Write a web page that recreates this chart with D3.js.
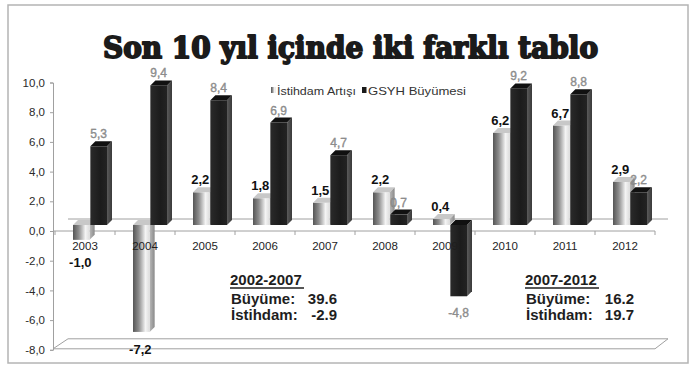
<!DOCTYPE html>
<html><head><meta charset="utf-8">
<script src="https://cdn.jsdelivr.net/npm/d3@7/dist/d3.min.js"></script>
<style>
html,body{margin:0;padding:0;background:#fff;}
svg{display:block;}
</style></head>
<body>
<svg id="chart" width="700" height="374"></svg>
<script>
const years = ["2003","2004","2005","2006","2007","2008","2009","2010","2011","2012"];
const istihdam = [-1.0, -7.2, 2.2, 1.8, 1.5, 2.2, 0.4, 6.2, 6.7, 2.9];
const gsyh = [5.3, 9.4, 8.4, 6.9, 4.7, 0.7, -4.8, 9.2, 8.8, 2.2];
const seriesNames = ["İstihdam Artışı", "GSYH Büyümesi"];
const yTicks = [-8, -6, -4, -2, 0, 2, 4, 6, 8, 10];
const titleText = "Son 10 yıl içinde iki farklı tablo";
const periodA = {title: "2002-2007", rows: [["Büyüme:", "39.6"], ["İstihdam:", "-2.9"]]};
const periodB = {title: "2007-2012", rows: [["Büyüme:", "16.2"], ["İstihdam:", "19.7"]]};

const svg = d3.select("#chart");
const defs = svg.append("defs");
const FONT = "'Liberation Sans', Arial, sans-serif";

// gradients
const gGray = defs.append("linearGradient").attr("id","gGray").attr("x1","0").attr("x2","1").attr("y1","0").attr("y2","0");
[["0%","#555"],["35%","#8e8e8e"],["75%","#f4f4f4"],["100%","#dcdcdc"]].forEach(s=>gGray.append("stop").attr("offset",s[0]).attr("stop-color",s[1]));
const gGraySide = defs.append("linearGradient").attr("id","gGraySide").attr("x1","0").attr("x2","1");
[["0%","#b8b8b8"],["100%","#8a8a8a"]].forEach(s=>gGraySide.append("stop").attr("offset",s[0]).attr("stop-color",s[1]));
const gBlack = defs.append("linearGradient").attr("id","gBlack").attr("x1","0").attr("x2","1");
[["0%","#2a2a2a"],["60%","#1c1c1c"],["100%","#232323"]].forEach(s=>gBlack.append("stop").attr("offset",s[0]).attr("stop-color",s[1]));
const gBlackSide = defs.append("linearGradient").attr("id","gBlackSide").attr("x1","0").attr("x2","1");
[["0%","#5a5a5a"],["100%","#3a3a3a"]].forEach(s=>gBlackSide.append("stop").attr("offset",s[0]).attr("stop-color",s[1]));

// frame
svg.append("rect").attr("x",8).attr("y",5).attr("width",680).attr("height",358)
  .attr("fill","#fff").attr("stroke","#b4b4b4").attr("stroke-width",1.5);

// title
svg.append("text").attr("x",103).attr("y",58).text(titleText)
  .attr("font-family","'DejaVu Serif', serif").attr("font-weight","bold").attr("font-size",29)
  .attr("fill","#1b1b1b").attr("stroke","#1b1b1b").attr("stroke-width",1.9)
  .attr("stroke-linejoin","round")
  .attr("textLength",495).attr("lengthAdjust","spacingAndGlyphs");

// scales
const y = d3.scaleLinear().domain([-8, 10]).range([349.8, 82.5]);
const x0 = d3.scaleBand().domain(years).range([55, 655]);
const x1 = d3.scaleBand().domain(seriesNames).range([0, 34]).paddingInner(0.04);
const barOff = 18;        // shift of bar group inside band (depth)
const depthY = -6;        // bars sit half-way into depth
const dx = 5, dyTop = -5; // 3D face offsets
const wallDx = 15, wallDy = -12;
const fmt = v => d3.format(".1f")(v).replace(".",",").replace("\u2212","-");

// back zero line & floor
const g0 = svg.append("g").attr("stroke","#a0a0a0").attr("fill","none").attr("stroke-width",1);
g0.append("line").attr("x1",53+wallDx).attr("x2",655+wallDx-2).attr("y1",y(0)+wallDy).attr("y2",y(0)+wallDy);
g0.append("path").attr("d",
  `M53,${y(-8)-1} L${53+wallDx},${y(-8)+wallDy+1} L${655+wallDx-2},${y(-8)+wallDy+1} L655,${y(-8)-1} Z`);
g0.append("line").attr("x1",53).attr("x2",655).attr("y1",y(0)).attr("y2",y(0));

// x ticks at band edges
svg.append("g").selectAll("line").data(years.concat(["end"])).join("line")
  .attr("x1",d=> d==="end" ? 655 : x0(d)).attr("x2",d=> d==="end" ? 655 : x0(d))
  .attr("y1",y(0)).attr("y2",y(0)+4).attr("stroke","#a0a0a0");

// y axis
const yAxis = svg.append("g").attr("transform","translate(53,0)")
  .call(d3.axisLeft(y).tickValues(yTicks).tickSize(3).tickPadding(5).tickFormat(fmt));
yAxis.select(".domain").attr("stroke","#a0a0a0");
yAxis.selectAll(".tick line").attr("stroke","#a0a0a0");
yAxis.selectAll("text").attr("font-family",FONT).attr("font-size",11.5).attr("fill","#2a2a2a");

// bars
const data = [];
years.forEach((yr,i)=>{
  data.push({year:yr, s:seriesNames[0], v:istihdam[i], k:0});
  data.push({year:yr, s:seriesNames[1], v:gsyh[i], k:1});
});
const bars = svg.append("g").selectAll("g").data(data).join("g");
bars.each(function(d){
  const g = d3.select(this);
  const xl = x0(d.year) + barOff + x1(d.s);
  const w = x1.bandwidth();
  const top = y(Math.max(d.v,0)) + depthY;
  const bot = y(Math.min(d.v,0)) + depthY;
  d.xl = xl; d.w = w; d.top = top; d.bot = bot;
  g.append("path").attr("d",`M${xl+w},${top} L${xl+w+dx},${top+dyTop} L${xl+w+dx},${bot+dyTop} L${xl+w},${bot} Z`)
    .attr("fill", d.k===0 ? "url(#gGraySide)" : "url(#gBlackSide)");
  g.append("rect").attr("x",xl).attr("y",top).attr("width",w).attr("height",Math.max(bot-top,0.5))
    .attr("fill", d.k===0 ? "url(#gGray)" : "url(#gBlack)");
  g.append("path").attr("d",`M${xl},${top} L${xl+dx},${top+dyTop} L${xl+w+dx},${top+dyTop} L${xl+w},${top} Z`)
    .attr("fill", d.k===0 ? "#c8c8c8" : "#111");
});

// category labels (drawn over bars)
const xAxis = svg.append("g").attr("transform",`translate(0,${y(0)})`)
  .call(d3.axisBottom(x0).tickSize(0).tickPadding(11));
xAxis.select(".domain").remove();
xAxis.selectAll("text").attr("font-family",FONT).attr("font-size",11.5).attr("fill","#1e1e1e");

// value labels
svg.append("g").selectAll("text").data(data).join("text")
  .attr("x", d => d.xl + d.w/2 + (d.k===0 ? -1 : 0))
  .attr("y", d => d.v >= 0 ? d.top - 8 : (d.k===0 ? Math.max(d.bot + 22, 267) : d.bot + 21))
  .attr("text-anchor","middle")
  .attr("font-family",FONT)
  .attr("font-weight", d => d.k===0 ? "bold" : "normal")
  .attr("font-size", d => d.k===0 ? 13 : 12)
  .attr("fill", d => d.k===0 ? "#111" : "#8d8d8d")
  .attr("stroke", d => d.k===0 ? "#fff" : "#666")
  .attr("stroke-width", d => d.k===0 ? 0.6 : 0.3)
  .attr("paint-order","stroke")
  .text(d => fmt(d.v));

// legend
const leg = svg.append("g");
const legItems = [{name:seriesNames[0], x:271, w:79, fill:"url(#gGray)"},{name:seriesNames[1], x:362, w:98, fill:"#1a1a1a"}];
legItems.forEach(it=>{
  leg.append("rect").attr("x",it.x).attr("y",87).attr("width",4.5).attr("height",6).attr("fill",it.fill);
  leg.append("text").attr("x",it.x+6).attr("y",95).text(it.name)
    .attr("font-family",FONT).attr("font-size",11.5).attr("fill","#333")
    .attr("textLength",it.w).attr("lengthAdjust","spacingAndGlyphs");
});

// period annotations
function period(p, x, numRight){
  const g = svg.append("g").attr("font-family",FONT).attr("font-weight","bold").attr("fill","#1e1e1e");
  g.append("text").attr("x",x).attr("y",285).attr("font-size",15).text(p.title);
  g.append("line").attr("x1",x).attr("x2",x+74).attr("y1",288).attr("y2",288).attr("stroke","#1e1e1e").attr("stroke-width",1.3);
  p.rows.forEach((r,i)=>{
    g.append("text").attr("x",x+1).attr("y",304+i*16).attr("font-size",15).text(r[0]);
    g.append("text").attr("x",numRight).attr("y",304+i*16).attr("font-size",15).attr("text-anchor","end").text(r[1]);
  });
}
period(periodA, 230, 337);
period(periodB, 525, 634);
</script>
</body></html>
